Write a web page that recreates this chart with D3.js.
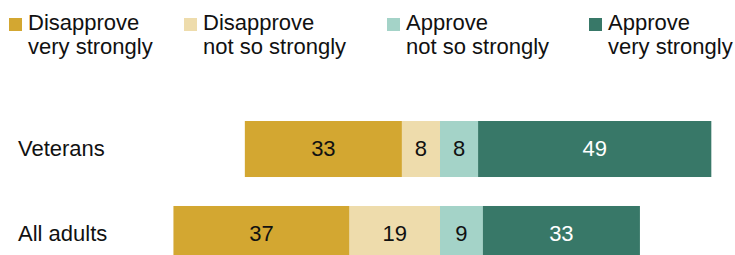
<!DOCTYPE html>
<html>
<head>
<meta charset="utf-8">
<script src="https://cdn.jsdelivr.net/npm/d3@7"></script>
<style>
  body { margin: 0; background: #fff; }
  svg text { font-family: "Liberation Sans", Arial, sans-serif; }
</style>
</head>
<body>
<div id="chart"></div>
<script>
;(function () {

    var width = 735
        , height = 255
        , svg;

    // data
    var groups = ['Veterans', 'All adults'];
    var seriesNames = [
        ['Disapprove', 'very strongly'],
        ['Disapprove', 'not so strongly'],
        ['Approve', 'not so strongly'],
        ['Approve', 'very strongly']
    ];
    var disapproveVery = [33, 37];
    var disapproveNotSo = [8, 19];
    var approveNotSo = [8, 9];
    var approveVery = [49, 33];

    var colors = ['#d3a731', '#eedcac', '#a4d3c8', '#387868'];
    var textColors = ['#111', '#111', '#111', '#fff'];
    var legendX = [9, 184, 387, 589];

    var x = d3.scaleLinear()
        .domain([-50, 60])
        .range([440 - 50 * 4.76, 440 + 60 * 4.76]);

    var y = d3.scaleBand()
        .domain(groups)
        .range([121, 262])
        .paddingInner(0.341)
        .paddingOuter(0);

    function buildSegments() {
        var segs = [];
        groups.forEach(function (g, i) {
            var vals = [disapproveVery[i], disapproveNotSo[i], approveNotSo[i], approveVery[i]];
            // disapprove stacks leftwards from zero, approve rightwards
            var left = -(vals[0] + vals[1]);
            vals.forEach(function (v, k) {
                segs.push({ group: g, k: k, value: v, x0: left, x1: left + v });
                left += v;
            });
        });
        return segs;
    }

    function initialize() {
        svg = d3.select('#chart').append('svg')
            .attr('width', width)
            .attr('height', height);

        // legend
        var legend = svg.append('g').attr('class', 'legend');
        seriesNames.forEach(function (lines, k) {
            var item = legend.append('g');
            item.append('rect')
                .attr('x', legendX[k])
                .attr('y', 18)
                .attr('width', 13)
                .attr('height', 13)
                .attr('fill', colors[k]);
            var t = item.append('text')
                .attr('x', legendX[k] + 19)
                .attr('y', 30)
                .attr('font-size', 22)
                .attr('fill', '#111');
            lines.forEach(function (l, j) {
                t.append('tspan')
                    .attr('x', legendX[k] + 19)
                    .attr('dy', j === 0 ? 0 : 24)
                    .text(l);
            });
        });

        // category labels
        svg.selectAll('.cat')
            .data(groups)
            .enter().append('text')
            .attr('class', 'cat')
            .attr('x', 18)
            .attr('y', function (d) { return y(d) + y.bandwidth() / 2; })
            .attr('dy', '0.3em')
            .attr('font-size', 22)
            .attr('fill', '#111')
            .text(function (d) { return d; });

        var segs = buildSegments();

        svg.selectAll('.seg')
            .data(segs)
            .enter().append('rect')
            .attr('class', 'seg')
            .attr('x', function (d) { return x(d.x0); })
            .attr('y', function (d) { return y(d.group); })
            .attr('width', function (d) { return x(d.x1) - x(d.x0); })
            .attr('height', y.bandwidth())
            .attr('fill', function (d) { return colors[d.k]; });

        svg.selectAll('.val')
            .data(segs)
            .enter().append('text')
            .attr('class', 'val')
            .attr('x', function (d) { return (x(d.x0) + x(d.x1)) / 2; })
            .attr('y', function (d) { return y(d.group) + y.bandwidth() / 2; })
            .attr('dy', '0.3em')
            .attr('text-anchor', 'middle')
            .attr('font-size', 22)
            .attr('fill', function (d) { return textColors[d.k]; })
            .text(function (d) { return d.value; });
    }

    initialize();

}());
</script>
</body>
</html>
